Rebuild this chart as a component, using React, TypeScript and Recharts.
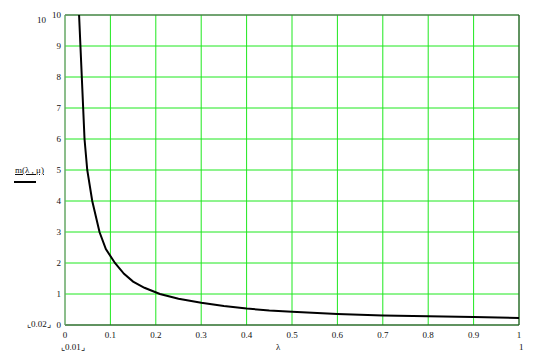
import React from 'react'
import { LineChart, Line, XAxis, YAxis, CartesianGrid, ReferenceLine } from 'recharts'

// λ values and m(λ, μ)
const lambdas = [
  0.031, 0.034, 0.037, 0.04, 0.043, 0.049, 0.06, 0.076, 0.09, 0.11, 0.13, 0.15, 0.175,
  0.209, 0.25, 0.3, 0.35, 0.4, 0.45, 0.5, 0.6, 0.7, 0.8, 0.9, 1.0,
]
const mValues = [
  10, 9, 8, 7, 6, 5, 4, 3, 2.45, 2, 1.65, 1.4, 1.2,
  1.0, 0.85, 0.72, 0.61, 0.53, 0.47, 0.43, 0.355, 0.31, 0.28, 0.255, 0.225,
]
const xTicks = [0, 0.1, 0.2, 0.3, 0.4, 0.5, 0.6, 0.7, 0.8, 0.9, 1]
const yTicks = [0, 1, 2, 3, 4, 5, 6, 7, 8, 9, 10]

const GRID = '#1ee81e'
const FONT = '"Liberation Serif", "DejaVu Serif", serif'

const data = lambdas.map((l, i) => ({ l, m: mValues[i] }))

const tickStyle = { fontSize: 9, fontFamily: FONT, fill: '#111' }

// plain text labels placed around the plot, Mathcad style
const Note = ({ x, y, children, style }: any) => (
  <div
    style={{
      position: 'absolute',
      left: x,
      top: y,
      fontFamily: FONT,
      fontSize: 9,
      color: '#111',
      whiteSpace: 'nowrap',
      lineHeight: 1,
      ...style,
    }}
  >
    {children}
  </div>
)

export default function App() {
  return (
    <div style={{ position: 'absolute', left: 0, top: 0, width: 538, height: 353, background: '#fff' }}>
      <LineChart width={538} height={353} data={data} margin={{ top: 15, right: 19, left: 0, bottom: 0 }}>
        <CartesianGrid stroke={GRID} strokeWidth={1} horizontalValues={yTicks} verticalValues={xTicks} />
        <XAxis
          dataKey="l"
          type="number"
          domain={[0, 1]}
          ticks={xTicks}
          height={28}
          tickLine={false}
          tickSize={2}
          tickMargin={5}
          axisLine={{ stroke: '#333', strokeWidth: 1 }}
          tick={tickStyle}
          interval={0}
        />
        <YAxis
          type="number"
          domain={[0, 10]}
          ticks={yTicks}
          width={65}
          tickLine={false}
          tickSize={2}
          tickMargin={2}
          axisLine={{ stroke: '#888', strokeWidth: 1 }}
          tick={tickStyle}
          interval={0}
          allowDataOverflow
        />
        <ReferenceLine y={10} stroke="#555" strokeWidth={1} />
        <ReferenceLine x={1} stroke="#333" strokeWidth={1} />
        <Line
          type="linear"
          dataKey="m"
          stroke="#000"
          strokeWidth={2}
          dot={false}
          isAnimationActive={false}
        />
      </LineChart>
      <Note x={37} y={16}>10</Note>
      <Note x={15} y={166} style={{ textDecoration: 'underline' }}>m(λ , μ)</Note>
      <div style={{ position: 'absolute', left: 14, top: 181, width: 22, height: 2, background: '#000' }} />
      <Note x={27} y={320}>⌞0.02⌟</Note>
      <Note x={61} y={343}>⌞0.01⌟</Note>
      <Note x={276} y={343}>λ</Note>
      <Note x={519} y={343}>1</Note>
    </div>
  )
}
